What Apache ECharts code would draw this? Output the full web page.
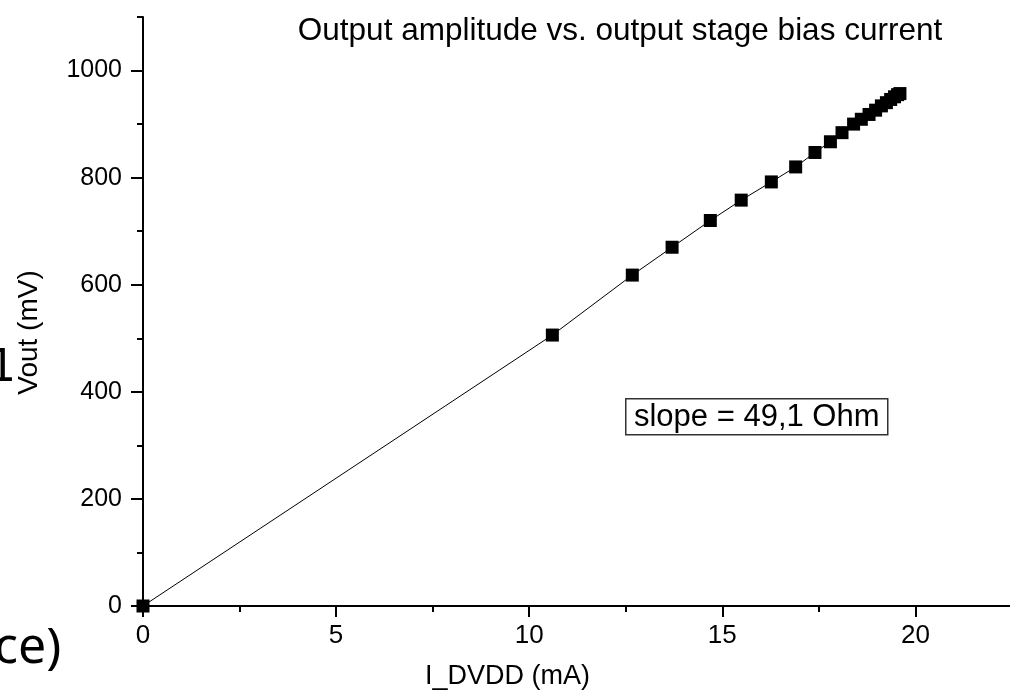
<!DOCTYPE html>
<html>
<head>
<meta charset="utf-8">
<script src="https://cdn.jsdelivr.net/npm/echarts@6/dist/echarts.min.js"></script>
<style>
html,body{margin:0;padding:0;background:#fff;}
#chart{width:1010px;height:696px;}
</style>
</head>
<body>
<div id="chart"></div>
<script>
// Data
const currentMA = [0, 10.6, 12.67, 13.7, 14.69, 15.49, 16.27, 16.9, 17.4, 17.8, 18.1, 18.4, 18.6, 18.8, 18.97, 19.12, 19.25, 19.36, 19.46, 19.54, 19.6];
const voutMV    = [0, 506, 618, 670, 720, 758, 792, 820, 847, 867, 884, 900, 909, 918, 926, 934, 940, 946, 951, 955, 957];
const xMajorTicks = [0, 5, 10, 15, 20];
const xMinorTicks = [2.5, 7.5, 12.5, 17.5];
const yMajorTicks = [0, 200, 400, 600, 800, 1000];
const yMinorTicks = [100, 300, 500, 700, 900, 1100];
const titleText = 'Output amplitude vs. output stage bias current';
const xName = 'I_DVDD (mA)';
const yName = 'Vout (mV)';
const noteText = 'slope = 49,1 Ohm';

const points = currentMA.map((x, i) => [x, voutMV[i]]);
const FONT = 'Liberation Sans';
const chart = echarts.init(document.getElementById('chart'), null, {renderer: 'canvas'});
const plain = v => String(v);

const lineStyle = {color: '#000', width: 2};
chart.setOption({
  animation: false,
  backgroundColor: '#fff',
  title: {
    text: titleText,
    left: 615, top: 10, textAlign: 'center',
    textStyle: {fontFamily: FONT, fontWeight: 'normal', fontSize: 31.5, color: '#000'}
  },
  grid: {left: 143, top: 17, right: 0, bottom: 90, containLabel: false, outerBoundsMode: 'none'},
  xAxis: [{
    type: 'value', min: 0, max: 22.45,
    name: xName, nameLocation: 'middle', nameGap: 57, nameMoveOverlap: false,
    nameTextStyle: {fontFamily: FONT, fontSize: 27, color: '#000', padding: [0, 138, 0, 0]},
    axisLine: {show: true, onZero: false, lineStyle: lineStyle},
    axisTick: {show: true, inside: false, length: 11, lineStyle: lineStyle, customValues: xMajorTicks},
    axisLabel: {fontFamily: FONT, fontSize: 26, color: '#000', margin: 17, formatter: plain, customValues: xMajorTicks},
    splitLine: {show: false}
  }, {
    type: 'value', min: 0, max: 22.45, position: 'bottom',
    axisLine: {show: false},
    axisTick: {show: true, inside: false, length: 6, lineStyle: lineStyle, customValues: xMinorTicks},
    axisLabel: {show: false},
    splitLine: {show: false}
  }],
  yAxis: [{
    type: 'value', min: 0, max: 1100,
    name: yName, nameLocation: 'middle', nameGap: 100, nameRotate: 90, nameMoveOverlap: false,
    nameTextStyle: {fontFamily: FONT, fontSize: 28, color: '#000', padding: [0, 42, 0, 0]},
    axisLine: {show: true, onZero: false, lineStyle: lineStyle},
    axisTick: {show: true, inside: false, length: 12, lineStyle: lineStyle, customValues: yMajorTicks},
    axisLabel: {fontFamily: FONT, fontSize: 25, color: '#000', margin: 21, formatter: plain, customValues: yMajorTicks},
    splitLine: {show: false}
  }, {
    type: 'value', min: 0, max: 1100, position: 'left',
    axisLine: {show: false},
    axisTick: {show: true, inside: false, length: 6, lineStyle: lineStyle, customValues: yMinorTicks},
    axisLabel: {show: false},
    splitLine: {show: false}
  }],
  series: [{
    type: 'line',
    data: points,
    symbol: 'rect',
    symbolSize: 13,
    showAllSymbol: true,
    lineStyle: {color: '#000', width: 1},
    itemStyle: {color: '#000'},
    z: 1
  }],
  graphic: [{
    type: 'group', left: 625, top: 398,
    children: [{
      type: 'rect', shape: {x: 0, y: 0, width: 262, height: 36},
      style: {fill: '#fff', stroke: '#333', lineWidth: 1.5}
    }, {
      type: 'text', x: 131, y: 19,
      style: {text: noteText, fill: '#000', font: '31px "Liberation Sans"', align: 'center', verticalAlign: 'middle'}
    }]
  }, {
    type: 'text', left: -12, top: 348,
    style: {text: '1', fill: '#000', font: '44px "DejaVu Sans"'}
  }, {
    type: 'text', left: -6, top: 624,
    style: {text: 'ce)', fill: '#000', font: '50px "Noto Sans"'}
  }]
});
</script>
</body>
</html>
